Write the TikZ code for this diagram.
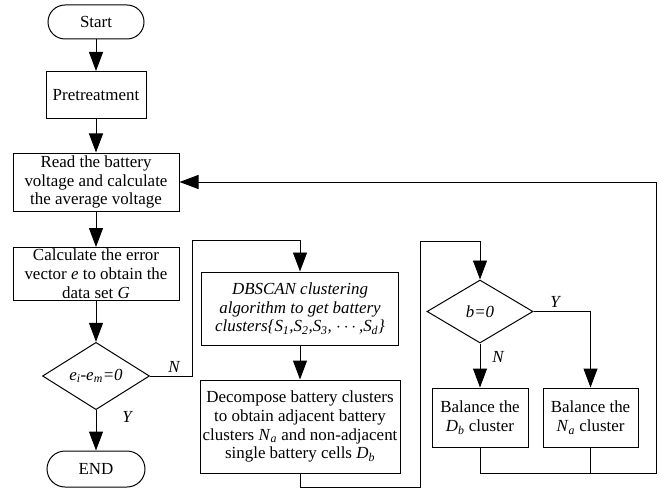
\documentclass[tikz,border=0pt]{standalone}
\usepackage{fontspec}
\setmainfont{Liberation Serif}
\usetikzlibrary{shapes.geometric,arrows.meta}
\newcommand{\vs}[2]{\textit{#1}\textsubscript{\textit{#2}}}
\newcommand{\ff}{\fontsize{17}{19}\selectfont}
\tikzset{p/.style = {rectangle, draw, line width=1pt, inner sep=0pt, align=center, font=\ff},
    t/.style = {p, rounded corners=17bp},
    q/.style = {diamond, draw, line width=1pt, inner sep=0pt, font=\ff\itshape},
    l/.style = {font=\ff\itshape}}

\begin{document}
\begin{tikzpicture}[x=1bp, y=-1bp, >={Triangle[length=19bp,width=14bp]}, line width=1pt]
    \useasboundingbox (0,0) rectangle (669,489);
    \node[t, minimum width=96bp, minimum height=34bp] (start) at (96,22) {Start};
    \node[p, minimum width=100bp, minimum height=47bp] (pre) at (96,95) {Pretreatment};
    \node[p, minimum width=166bp, minimum height=58bp] (read) at (96,182) {Read the battery\\voltage and calculate\\the average voltage};
    \node[p, minimum width=166bp, minimum height=53bp] (calc) at (96,274) {Calculate the error\\vector \textit{e} to obtain the\\data set \textit{G}};
    \node[q, minimum width=107bp, minimum height=62bp] (d1) at (96,376) {\vs{e}{i}-\vs{e}{m}=0};
    \node[t, minimum width=98bp, minimum height=36bp, rounded corners=18bp] (end) at (96,469) {END};
    \node[p, minimum width=197bp, minimum height=73bp, font=\ff\itshape] (db) at (300,308.5) {DBSCAN clustering\\algorithm to get battery\\clusters\{\vs{S}{1},\vs{S}{2},\vs{S}{3}, $\cdots$\,,\vs{S}{d}\}};
    \node[p, minimum width=200bp, minimum height=93bp] (dec) at (300,426.5) {Decompose battery clusters\\to obtain adjacent battery\\clusters \vs{N}{a} and non-adjacent\\single battery cells \vs{D}{b}};
    \node[q, minimum width=106bp, minimum height=63bp] (d2) at (480,311.5) {b=0};
    \node[p, minimum width=96bp, minimum height=59bp] (bd) at (480,417.5) {Balance the\\\vs{D}{b} cluster};
    \node[p, minimum width=95bp, minimum height=59bp] (bn) at (590.5,417.5) {Balance the\\\vs{N}{a} cluster};

    \coordinate (c1) at (192,240);
    \coordinate (c2) at (420,487);
    \coordinate (c3) at (420,241);
    \coordinate (c4) at (656,473);

    \draw[->] (start) -- (pre);
    \draw[->] (pre) -- (read);
    \draw[->] (read) -- (calc);
    \draw[->] (calc) -- (d1);
    \draw[->] (d1) -- (end);
    \draw[->] (d1.east) -| (c1) -| (db.north);
    \draw[->] (db) -- (dec);
    \draw[->] (dec.south) |- (c2) -- (c3) -| (d2.north);
    \draw[->] (d2) -- (bd);
    \draw[->] (d2.east) -| (bn.north);
    \draw[->] (bd.south) |- (c4) |- (read.east);
    \draw (bn.south) -- ++(0,26);

    \node[l] (y1) at (127,417) {Y};
    \node[l] (n1) at (174,367) {N};
    \node[l] (y2) at (555,302) {Y};
    \node[l] (n2) at (498,357) {N};
\end{tikzpicture}
\end{document}
